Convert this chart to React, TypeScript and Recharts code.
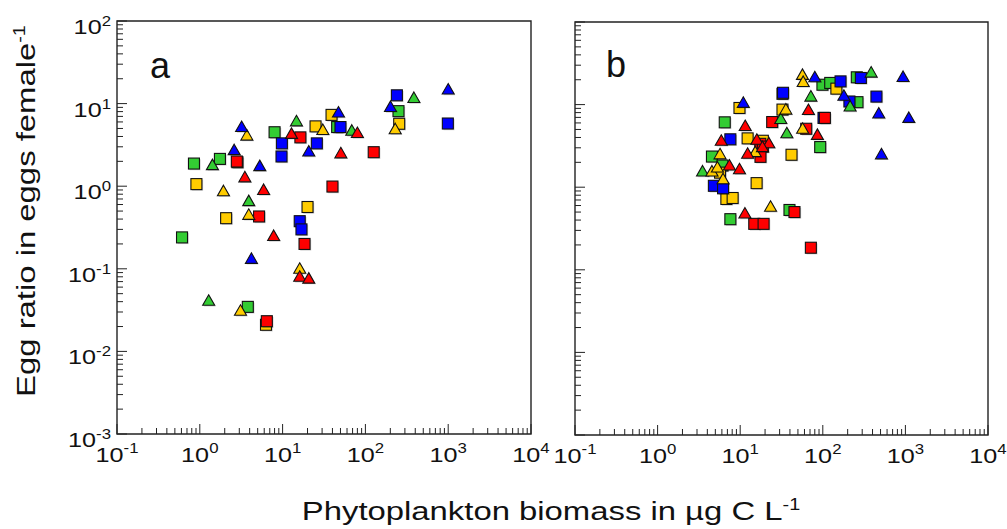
import React from 'react';
import { ScatterChart, Scatter, XAxis, YAxis, ReferenceArea } from 'recharts';

type Pt = { x: number; y: number };

// ---------- tick definitions ----------
const X_DECADES = [0.1, 1, 10, 100, 1000, 10000];
const X_EXPONENTS = ['-1', '0', '1', '2', '3', '4'];
const Y_DECADES = [0.001, 0.01, 0.1, 1, 10, 100];
const Y_EXPONENTS = ['-3', '-2', '-1', '0', '1', '2'];
const MINOR_MULTIPLIERS = [2, 3, 4, 5, 6, 7, 8, 9];

// ---------- colours ----------
const GREEN = '#33cc33';
const YELLOW = '#ffcc00';
const BLUE = '#0000ff';
const RED = '#ff0000';

// ---------- panel a data ----------
const aGreenSquares: Pt[] = [
  { x: 8.0, y: 4.5 }, { x: 45.6, y: 5.2 }, { x: 251, y: 8.1 }, { x: 0.61, y: 0.24 },
  { x: 0.85, y: 1.88 }, { x: 1.75, y: 2.14 }, { x: 3.8, y: 0.0346 },
];
const aGreenTriangles: Pt[] = [
  { x: 385, y: 11.7 }, { x: 68.5, y: 4.7 }, { x: 14.7, y: 6.1 }, { x: 3.9, y: 0.66 },
  { x: 1.28, y: 0.041 }, { x: 1.42, y: 1.8 },
];
const aYellowSquares: Pt[] = [
  { x: 256, y: 5.7 }, { x: 39, y: 7.3 }, { x: 25, y: 5.3 }, { x: 20, y: 0.56 },
  { x: 6.3, y: 0.021 }, { x: 0.91, y: 1.06 }, { x: 2.08, y: 0.41 }, { x: 2.85, y: 1.95 },
];
const aYellowTriangles: Pt[] = [
  { x: 229, y: 4.9 }, { x: 30.6, y: 4.8 }, { x: 16.1, y: 0.1 }, { x: 3.9, y: 0.45 },
  { x: 1.93, y: 0.87 }, { x: 3.1, y: 0.031 }, { x: 3.7, y: 4.1 },
];
const aBlueSquares: Pt[] = [
  { x: 990, y: 5.74 }, { x: 240, y: 12.6 }, { x: 50, y: 5.2 }, { x: 25.9, y: 3.3 },
  { x: 9.8, y: 3.3 }, { x: 9.7, y: 2.29 }, { x: 16.1, y: 0.377 }, { x: 16.9, y: 0.3 },
];
const aBlueTriangles: Pt[] = [
  { x: 1000, y: 14.8 }, { x: 201, y: 9.1 }, { x: 47.3, y: 7.8 }, { x: 20.7, y: 2.63 },
  { x: 5.3, y: 1.75 }, { x: 4.2, y: 0.132 }, { x: 2.6, y: 2.73 }, { x: 3.2, y: 5.2 },
];
const aRedSquares: Pt[] = [
  { x: 126, y: 2.58 }, { x: 16.4, y: 3.9 }, { x: 40, y: 0.99 }, { x: 18.4, y: 0.2 },
  { x: 5.2, y: 0.43 }, { x: 6.45, y: 0.0232 }, { x: 2.8, y: 1.99 },
];
const aRedTriangles: Pt[] = [
  { x: 80, y: 4.4 }, { x: 50.5, y: 2.5 }, { x: 12.8, y: 4.3 }, { x: 16.1, y: 0.08 },
  { x: 20.7, y: 0.076 }, { x: 7.8, y: 0.25 }, { x: 5.9, y: 0.9 }, { x: 3.5, y: 1.28 },
];

// ---------- panel b data ----------
const bGreenSquares: Pt[] = [
  { x: 99, y: 17.4 }, { x: 123, y: 18.3 }, { x: 258, y: 21.4 }, { x: 263, y: 10.7 },
  { x: 93, y: 3.06 }, { x: 6.5, y: 6.1 }, { x: 4.55, y: 2.35 }, { x: 6.1, y: 1.83 },
  { x: 7.6, y: 0.41 }, { x: 39.5, y: 0.53 },
];
const bGreenTriangles: Pt[] = [
  { x: 385, y: 24.4 }, { x: 214, y: 9.5 }, { x: 71.7, y: 12.5 }, { x: 36.7, y: 4.5 },
  { x: 31, y: 6.7 }, { x: 3.5, y: 1.55 },
];
const bYellowSquares: Pt[] = [
  { x: 146, y: 15.6 }, { x: 41.8, y: 2.47 }, { x: 32.5, y: 13.5 }, { x: 32.5, y: 8.7 },
  { x: 9.8, y: 9.1 }, { x: 12.3, y: 3.9 }, { x: 18.8, y: 3.65 }, { x: 5.7, y: 1.5 },
  { x: 6.8, y: 0.72 }, { x: 8.1, y: 0.74 }, { x: 15.8, y: 1.12 },
];
const bYellowTriangles: Pt[] = [
  { x: 56.7, y: 22.9 }, { x: 57.9, y: 18.8 }, { x: 57, y: 5.1 }, { x: 35.7, y: 8.7 },
  { x: 15.2, y: 2.66 }, { x: 5.7, y: 2.5 }, { x: 4.55, y: 1.55 }, { x: 5.3, y: 1.73 },
  { x: 6.2, y: 1.25 }, { x: 23.3, y: 0.58 },
];
const bBlueSquares: Pt[] = [
  { x: 164, y: 19.1 }, { x: 289, y: 21 }, { x: 446, y: 12.5 }, { x: 210, y: 10.9 },
  { x: 102, y: 6.9 }, { x: 33, y: 13.9 }, { x: 7.6, y: 3.8 }, { x: 4.8, y: 1.04 },
  { x: 6.2, y: 0.97 },
];
const bBlueTriangles: Pt[] = [
  { x: 80, y: 21.4 }, { x: 937, y: 21.6 }, { x: 476, y: 7.8 }, { x: 1100, y: 6.9 },
  { x: 513, y: 2.5 }, { x: 180, y: 12.8 }, { x: 10.9, y: 10.5 },
];
const bRedSquares: Pt[] = [
  { x: 106, y: 6.9 }, { x: 63, y: 5.1 }, { x: 24.4, y: 6.15 }, { x: 17.5, y: 3.35 },
  { x: 18.8, y: 3.1 }, { x: 17.6, y: 2.33 }, { x: 14.8, y: 0.36 }, { x: 19.2, y: 0.36 },
  { x: 45.4, y: 0.5 }, { x: 71.7, y: 0.185 },
];
const bRedTriangles: Pt[] = [
  { x: 67, y: 8.6 }, { x: 86, y: 4.3 }, { x: 11.5, y: 5.5 }, { x: 5.9, y: 3.65 },
  { x: 15.9, y: 3.75 }, { x: 22.2, y: 3.4 }, { x: 18.6, y: 3.06 }, { x: 12.3, y: 2.54 },
  { x: 7.4, y: 1.83 }, { x: 9.8, y: 1.65 }, { x: 11.4, y: 0.48 },
];

type SeriesDef = { name: string; data: Pt[]; color: string; shape: 'square' | 'triangle' };

const panelASeries: SeriesDef[] = [
  { name: 'green-sq', data: aGreenSquares, color: GREEN, shape: 'square' },
  { name: 'yellow-sq', data: aYellowSquares, color: YELLOW, shape: 'square' },
  { name: 'blue-sq', data: aBlueSquares, color: BLUE, shape: 'square' },
  { name: 'red-sq', data: aRedSquares, color: RED, shape: 'square' },
  { name: 'green-tri', data: aGreenTriangles, color: GREEN, shape: 'triangle' },
  { name: 'yellow-tri', data: aYellowTriangles, color: YELLOW, shape: 'triangle' },
  { name: 'blue-tri', data: aBlueTriangles, color: BLUE, shape: 'triangle' },
  { name: 'red-tri', data: aRedTriangles, color: RED, shape: 'triangle' },
];
const panelBSeries: SeriesDef[] = [
  { name: 'green-sq', data: bGreenSquares, color: GREEN, shape: 'square' },
  { name: 'yellow-sq', data: bYellowSquares, color: YELLOW, shape: 'square' },
  { name: 'blue-sq', data: bBlueSquares, color: BLUE, shape: 'square' },
  { name: 'red-sq', data: bRedSquares, color: RED, shape: 'square' },
  { name: 'green-tri', data: bGreenTriangles, color: GREEN, shape: 'triangle' },
  { name: 'yellow-tri', data: bYellowTriangles, color: YELLOW, shape: 'triangle' },
  { name: 'blue-tri', data: bBlueTriangles, color: BLUE, shape: 'triangle' },
  { name: 'red-tri', data: bRedTriangles, color: RED, shape: 'triangle' },
];

const FONT = '"Liberation Sans", Arial, Helvetica, sans-serif';
const STRETCH = 1.2;

function buildTicks(decades: number[]): number[] {
  const t: number[] = [];
  decades.forEach((d, i) => {
    t.push(d);
    if (i < decades.length - 1) MINOR_MULTIPLIERS.forEach((m) => t.push(+(d * m).toPrecision(6)));
  });
  return t;
}
const X_TICKS = buildTicks(X_DECADES);
const Y_TICKS = buildTicks(Y_DECADES);

function decadeIndex(v: number, decades: number[]): number {
  return decades.findIndex((d) => Math.abs(v / d - 1) < 1e-6);
}

function Marker(props: any) {
  const { cx, cy, color, shape } = props;
  if (cx == null || cy == null) return null;
  if (shape === 'square') {
    const s = 11;
    return (
      <g>
        <rect x={cx - s / 2 + 1.2} y={cy - s / 2 + 1.2} width={s} height={s} fill="#000" opacity={0.18} />
        <rect x={cx - s / 2} y={cy - s / 2} width={s} height={s} fill={color} stroke="#111" strokeWidth={1.1} />
      </g>
    );
  }
  const pts = (dx: number, dy: number) =>
    `${cx + dx},${cy - 6 + dy} ${cx + 6 + dx},${cy + 4.5 + dy} ${cx - 6 + dx},${cy + 4.5 + dy}`;
  return (
    <g>
      <polygon points={pts(1.2, 1.2)} fill="#000" opacity={0.18} />
      <polygon points={pts(0, 0)} fill={color} stroke="#111" strokeWidth={1.1} strokeLinejoin="miter" />
    </g>
  );
}

function XTick(props: any) {
  const { x, y, payload } = props;
  const v = payload.value;
  const idx = decadeIndex(v, X_DECADES);
  const major = idx >= 0;
  return (
    <g>
      <line x1={x} y1={y} x2={x} y2={y - (major ? 10 : 6)} stroke="#222" strokeWidth={1} />
      {major && (
        <g transform={`translate(${x},${y + 28}) scale(${STRETCH},1)`}>
          <text textAnchor="middle" fontSize={21} fontFamily={FONT} fill="#111">
            <tspan>10</tspan>
            <tspan dy={-9} fontSize={14}>{X_EXPONENTS[idx]}</tspan>
          </text>
        </g>
      )}
    </g>
  );
}

function makeYTick(showLabels: boolean) {
  return function YTick(props: any) {
    const { x, y, payload } = props;
    const v = payload.value;
    const idx = decadeIndex(v, Y_DECADES);
    const major = idx >= 0;
    return (
      <g>
        <line x1={x} y1={y} x2={x + (major ? 10 : 6)} y2={y} stroke="#222" strokeWidth={1} />
        {major && showLabels && (
          <g transform={`translate(${x - 6},${y + 13}) scale(${STRETCH},1)`}>
            <text textAnchor="end" fontSize={21} fontFamily={FONT} fill="#111">
              <tspan>10</tspan>
              <tspan dy={-8} fontSize={14}>{Y_EXPONENTS[idx]}</tspan>
            </text>
          </g>
        )}
      </g>
    );
  };
}

type PanelProps = {
  left: number;
  width: number;
  plotLeft: number;
  plotRight: number;
  plotTop: number;
  plotBottom: number;
  series: SeriesDef[];
  showYLabels: boolean;
};

const H = 529;

function Panel({ left, width, plotLeft, plotRight, plotTop, plotBottom, series, showYLabels }: PanelProps) {
  const YTick = makeYTick(showYLabels);
  return (
    <div style={{ position: 'absolute', left, top: 0, width, height: H }}>
      <ScatterChart
        width={width}
        height={H}
        margin={{ top: plotTop, right: left + width - plotRight, bottom: 0, left: 0 }}
      >
        <XAxis
          type="number"
          dataKey="x"
          scale="log"
          domain={[0.1, 10000]}
          allowDataOverflow
          ticks={X_TICKS}
          interval={0}
          tickSize={0}
          tickMargin={0}
          tickLine={false}
          axisLine={false}
          height={H - plotBottom}
          tick={(p: any) => <XTick {...p} />}
        />
        <YAxis
          type="number"
          dataKey="y"
          scale="log"
          domain={[0.001, 100]}
          allowDataOverflow
          ticks={Y_TICKS}
          interval={0}
          tickSize={0}
          tickMargin={0}
          tickLine={false}
          axisLine={false}
          width={plotLeft - left}
          tick={(p: any) => <YTick {...p} />}
        />
        <ReferenceArea
          x1={0.1}
          x2={10000}
          y1={0.001}
          y2={100}
          fill="none"
          fillOpacity={0}
          stroke="#222"
          strokeWidth={1.4}
          ifOverflow="visible"
        />
        {series.map((s) => (
          <Scatter
            key={s.name}
            name={s.name}
            data={s.data}
            isAnimationActive={false}
            shape={(p: any) => <Marker {...p} color={s.color} shape={s.shape} />}
          />
        ))}
      </ScatterChart>
    </div>
  );
}

export default function App() {
  return (
    <div style={{ position: 'absolute', left: 0, top: 0, width: 1007, height: H, background: '#fff' }}>
      <Panel left={0} width={562} plotLeft={117} plotRight={531} plotTop={21} plotBottom={434} series={panelASeries} showYLabels />
      <Panel left={540} width={467} plotLeft={575} plotRight={988} plotTop={22} plotBottom={435} series={panelBSeries} showYLabels={false} />
      <svg width={1007} height={H} style={{ position: 'absolute', left: 0, top: 0, pointerEvents: 'none' }}>
        <text x={150} y={78} fontSize={36} fontFamily={FONT} fill="#111">a</text>
        <text x={606} y={77} fontSize={36} fontFamily={FONT} fill="#111">b</text>
        <g transform={`translate(35,211) rotate(-90) scale(1.24,1)`}>
          <text textAnchor="middle" fontSize={26.5} fontFamily={FONT} fill="#111">
            <tspan>Egg ratio in eggs female</tspan>
            <tspan dy={-10} fontSize={16}>-1</tspan>
          </text>
        </g>
        <g transform={`translate(551,520) scale(1.24,1)`}>
          <text textAnchor="middle" fontSize={26.5} fontFamily={FONT} fill="#111">
            <tspan>Phytoplankton biomass in µg C L</tspan>
            <tspan dy={-10} fontSize={16}>-1</tspan>
          </text>
        </g>
      </svg>
    </div>
  );
}
